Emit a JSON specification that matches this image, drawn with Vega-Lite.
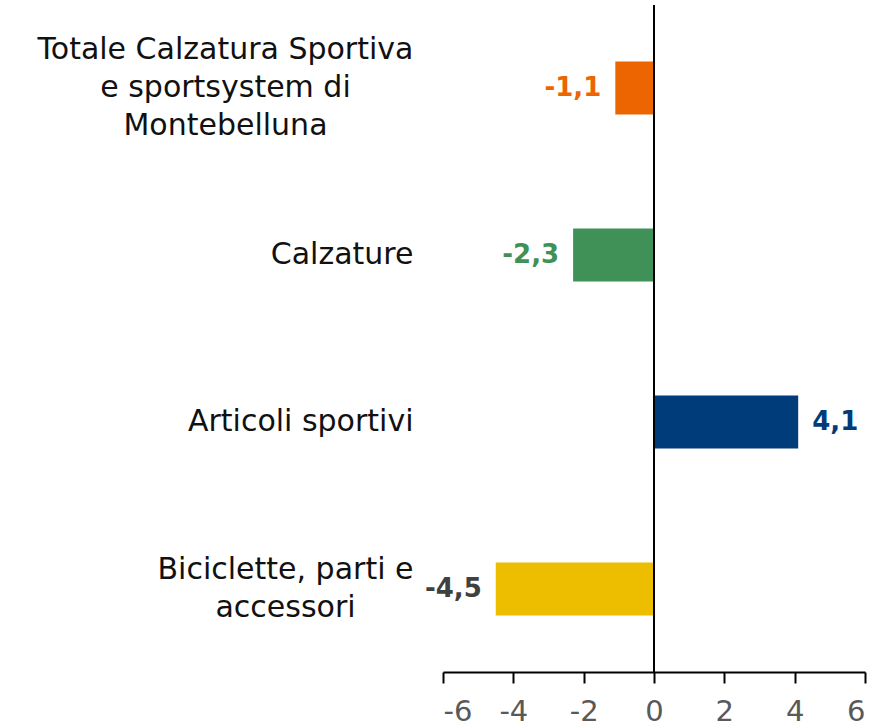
{
  "$schema": "https://vega.github.io/schema/vega-lite/v6.json",
  "width": 422,
  "height": 667,
  "autosize": {"type": "none"},
  "padding": {"left": 443, "top": 5, "right": 24, "bottom": 55},
  "background": "white",
  "data": {"values": [
    {"cat": "Totale Calzatura Sportiva|e sportsystem di|Montebelluna", "value": -1.1, "label": "-1,1"},
    {"cat": "Calzature", "value": -2.3, "label": "-2,3"},
    {"cat": "Articoli sportivi", "value": 4.1, "label": "4,1"},
    {"cat": "Biciclette, parti e|accessori", "value": -4.5, "label": "-4,5"}
  ]},
  "encoding": {
    "y": {"field": "cat", "type": "nominal", "sort": null,
      "scale": {"paddingInner": 0.683, "paddingOuter": 0.338},
      "axis": {"title": null, "domain": false, "ticks": false,
        "labelExpr": "split(datum.label, '|')", "labelLineHeight": 38,
        "labelFont": "DejaVu Sans", "labelFontSize": 30, "labelColor": "#111111", "labelLimit": 500,
        "labelAlign": {"condition": {"test": "indexof(datum.value, '|') >= 0", "value": "center"}, "value": "right"},
        "labelPadding": {"condition": [
          {"test": "indexof(datum.value, 'Totale') == 0", "value": 218},
          {"test": "indexof(datum.value, 'Biciclette') == 0", "value": 158}], "value": 30},
        "labelOffset": {"condition": [
          {"test": "indexof(datum.value, 'Totale') == 0", "value": -38},
          {"test": "indexof(datum.value, 'Biciclette') == 0", "value": -19}], "value": 0}}},
    "x": {"field": "value", "type": "quantitative",
      "scale": {"domain": [-6, 6], "nice": false},
      "axis": {"title": null, "grid": false, "values": [-6,-4,-2,0,2,4,6], "domainColor": "#000000", "domainWidth": 2,
        "tickColor": "#000000", "tickWidth": 2, "tickSize": 11, "labelPadding": 14,
        "labelExpr": "toString(datum.value)",
        "labelFont": "DejaVu Sans", "labelFontSize": 29, "labelColor": "#595959"}}
  },
  "layer": [
    {"mark": {"type": "bar"},
     "encoding": {"color": {"field": "cat", "type": "nominal", "legend": null,
       "scale": {"domain": ["Totale Calzatura Sportiva|e sportsystem di|Montebelluna", "Calzature", "Articoli sportivi", "Biciclette, parti e|accessori"],
                 "range": ["#EC6500", "#3F9158", "#003B7A", "#EDBE00"]}}}},
    {"mark": {"type": "rule", "color": "#000000", "strokeWidth": 2},
     "encoding": {"x": {"datum": 0}, "y": null}},
    {"transform": [{"filter": "datum.value < 0"}],
     "mark": {"type": "text", "align": "right", "dx": -14, "font": "DejaVu Sans", "fontSize": 26, "fontWeight": "bold"},
     "encoding": {"text": {"field": "label"},
       "color": {"field": "cat", "type": "nominal", "legend": null,
         "scale": {"domain": ["Totale Calzatura Sportiva|e sportsystem di|Montebelluna", "Calzature", "Articoli sportivi", "Biciclette, parti e|accessori"],
                   "range": ["#EC6500", "#3F9158", "#003B7A", "#404040"]}}}},
    {"transform": [{"filter": "datum.value > 0"}],
     "mark": {"type": "text", "align": "left", "dx": 14, "font": "DejaVu Sans", "fontSize": 26, "fontWeight": "bold"},
     "encoding": {"text": {"field": "label"},
       "color": {"field": "cat", "type": "nominal", "legend": null,
         "scale": {"domain": ["Totale Calzatura Sportiva|e sportsystem di|Montebelluna", "Calzature", "Articoli sportivi", "Biciclette, parti e|accessori"],
                   "range": ["#EC6500", "#3F9158", "#003B7A", "#404040"]}}}}
  ],
  "resolve": {"scale": {"color": "independent"}},
  "config": {"view": {"stroke": null}}
}
